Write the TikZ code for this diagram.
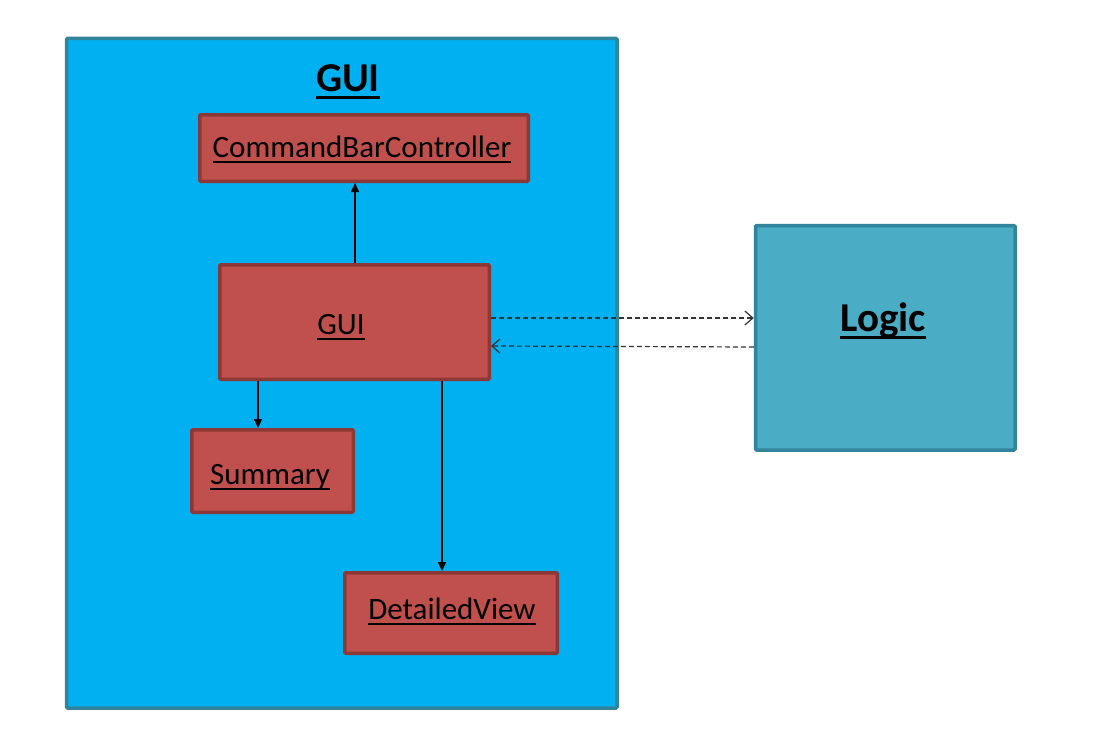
\documentclass[tikz,border=0pt]{standalone}
\usepackage{fontspec}
\setmainfont{Carlito}
\usetikzlibrary{arrows.meta}
\definecolor{guiblue}{HTML}{00B0F0}
\definecolor{frameteal}{HTML}{31849B}
\definecolor{boxred}{HTML}{C0504D}
\definecolor{boxredline}{HTML}{8C3836}
\definecolor{logicteal}{HTML}{4BACC6}
\definecolor{dashgray}{HTML}{333333}
\newcommand\ulin[1]{\leavevmode\setbox0\hbox{#1}\rlap{\copy0}\rule[-0.19em]{\wd0}{0.07em}}
\tikzset{
  classbox/.style={draw=boxredline, fill=boxred, line width=3.5pt, rounded corners=1pt,
    text=black, inner sep=0pt},
  classtext/.style={font=\fontsize{31}{34}\selectfont, anchor=base, inner sep=0pt},
  titletext/.style={font=\fontsize{41}{44}\selectfont\bfseries, anchor=base, inner sep=0pt},
  frame/.style={draw=frameteal, line width=3.5pt, rounded corners=1pt, inner sep=0pt},
  solidarrow/.style={-{Triangle[length=9pt,width=8pt]}, line width=1.3pt, black},
  deparrow/.style={-{Straight Barb[length=8pt,width=14pt]}, line width=1.2pt, dashgray, dash pattern=on 5pt off 3pt},
}
\begin{document}
\begin{tikzpicture}[x=1pt,y=-1pt]
\useasboundingbox (0,0) rectangle (1100,752);
% GUI package frame
\node[frame, fill=guiblue, minimum width=550.5pt, minimum height=669.5pt, anchor=north west] (guipkg) at (64.75,36.75) {};
\node[titletext] (guititle) at (348,91) {\ulin{GUI}};
% Logic package
\node[frame, fill=logicteal, minimum width=259.5pt, minimum height=224.5pt, anchor=north west] (logic) at (753.75,223.75) {};
\node[titletext] (logictitle) at (883,331) {\ulin{Logic}};
% classes
\node[classbox, minimum width=328.5pt, minimum height=66.5pt] (cbc) at (364,148) {};
\node[classbox, minimum width=269.5pt, minimum height=114.5pt] (gui) at (354.5,322) {};
\node[classbox, minimum width=161.5pt, minimum height=82.5pt] (summary) at (272.5,471) {};
\node[classbox, minimum width=212.5pt, minimum height=80.5pt] (detail) at (451,613) {};
\node[classtext] (cbctext) at (362,157) {\ulin{CommandBarController}};
\node[classtext] (guitext) at (341,334) {\ulin{GUI}};
\node[classtext] (sumtext) at (270,484) {\ulin{Summary}};
\node[classtext] (dettext) at (452,619) {\ulin{DetailedView}};
% solid arrows
\draw[solidarrow] (gui.north -| 355,0) -- (cbc.south -| 355,0);
\draw[solidarrow] (gui.south -| 258,0) -- (summary.north -| 258,0);
\draw[solidarrow] (gui.south -| 442,0) -- (detail.north -| 442,0);
% dependencies
\draw[deparrow] (gui.east |- 0,318) -- (logic.west |- 0,318);
\draw[deparrow] (logic.west |- 0,347) -- (gui.east |- 0,346);
\end{tikzpicture}
\end{document}
